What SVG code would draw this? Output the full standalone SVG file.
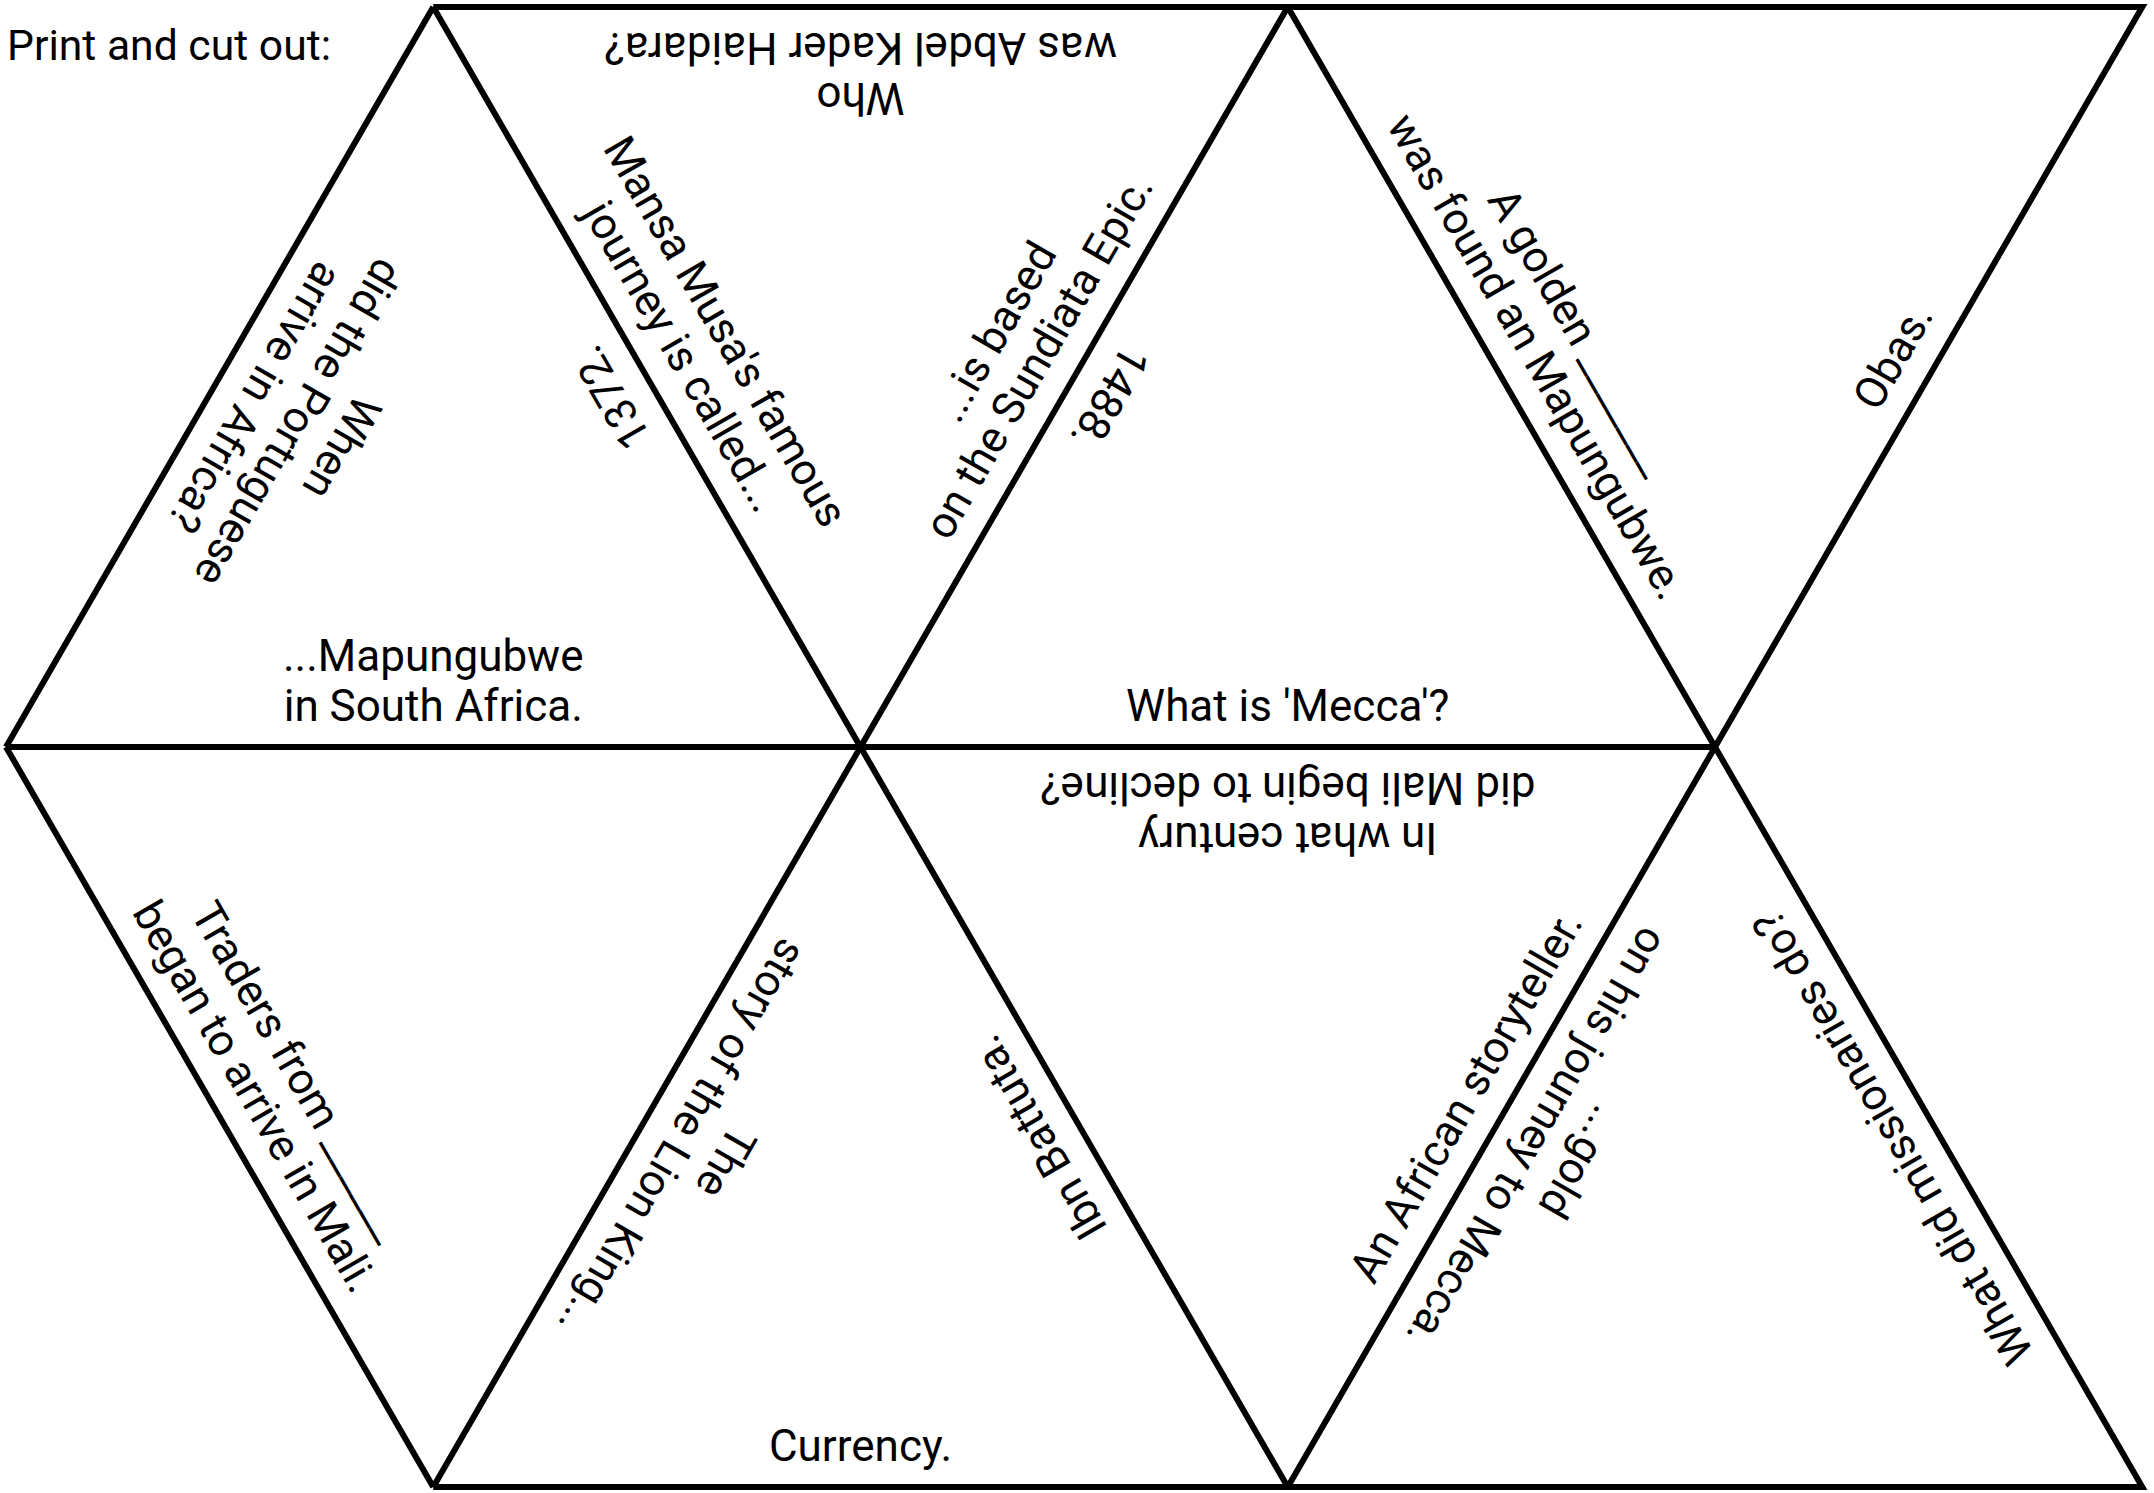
<svg xmlns="http://www.w3.org/2000/svg" width="2154" height="1493" viewBox="0 0 2154 1493">
<style>
  .cut { stroke: #000; stroke-width: 6; fill: none; stroke-linejoin: miter; }
  .t { font-family: Roboto, "Liberation Sans", sans-serif; font-size: 44px; fill: #000; text-anchor: middle; }
  .h { font-family: Roboto, "Liberation Sans", sans-serif; font-size: 42.7px; fill: #000; }
</style>
<rect width="2154" height="1493" fill="#fff"/>
<text class="h" x="7" y="60">Print and cut out:</text>

<g id="cut-lines">
  <polyline class="cut" points="433.25,7 2142.25,7 1287.75,1487"/>
  <line class="cut" x1="6" y1="747" x2="1715" y2="747"/>
  <polyline class="cut" points="433.25,1487 2142.25,1487 1287.75,7"/>
  <line class="cut" x1="6" y1="747" x2="433.25" y2="7"/>
  <line class="cut" x1="6" y1="747" x2="433.25" y2="1487"/>
  <line class="cut" x1="433.25" y1="7" x2="1287.75" y2="1487"/>
  <line class="cut" x1="1287.75" y1="7" x2="433.25" y2="1487"/>
</g>

<g id="tri-1">
  <g transform="translate(219.6,377) rotate(120)">
    <text class="t"><tspan x="0" y="-126">When</tspan><tspan x="0" y="-76">did the Portuguese</tspan><tspan x="0" y="-26">arrive in Africa?</tspan></text>
  </g>
  <g transform="translate(646.9,377) rotate(-120)">
    <text class="t" x="0" y="-26">1372.</text>
  </g>
  <g transform="translate(433.25,747)">
    <text class="t"><tspan x="0" y="-76">...Mapungubwe</tspan><tspan x="0" y="-26">in South Africa.</tspan></text>
  </g>
</g>

<g id="tri-2">
  <g transform="translate(860.5,7) rotate(180)">
    <text class="t"><tspan x="0" y="-76">Who</tspan><tspan x="0" y="-26">was Abdel Kader Haidara?</tspan></text>
  </g>
  <g transform="translate(646.9,377) rotate(60)">
    <text class="t"><tspan x="0" y="-76">Mansa Musa's famous</tspan><tspan x="0" y="-26">journey is called...</tspan></text>
  </g>
  <g transform="translate(1074.1,377) rotate(-60)">
    <text class="t"><tspan x="0" y="-76">...is based</tspan><tspan x="0" y="-26">on the Sundiata Epic.</tspan></text>
  </g>
</g>

<g id="tri-3">
  <g transform="translate(1074.1,377) rotate(120)">
    <text class="t" x="0" y="-26">1488.</text>
  </g>
  <g transform="translate(1287.75,747)">
    <text class="t" x="0" y="-26">What is 'Mecca'?</text>
  </g>
</g>

<g id="tri-4">
  <g transform="translate(1501.4,377) rotate(60)">
    <text class="t"><tspan x="0" y="-76">A golden _______</tspan><tspan x="0" y="-26">was found an Mapungubwe.</tspan></text>
  </g>
  <g transform="translate(1928.6,377) rotate(-60)">
    <text class="t" x="0" y="-26">Obas.</text>
  </g>
</g>

<g id="tri-5">
  <g transform="translate(219.6,1117) rotate(60)">
    <text class="t"><tspan x="0" y="-76">Traders from ______</tspan><tspan x="0" y="-26">began to arrive in Mali.</tspan></text>
  </g>
</g>

<g id="tri-6">
  <g transform="translate(646.9,1117) rotate(120)">
    <text class="t"><tspan x="0" y="-76">The</tspan><tspan x="0" y="-26">story of the Lion King...</tspan></text>
  </g>
  <g transform="translate(1074.1,1117) rotate(-120)">
    <text class="t" x="0" y="-26">Ibn Battuta.</text>
  </g>
  <g transform="translate(860.5,1487)">
    <text class="t" x="0" y="-26">Currency.</text>
  </g>
</g>

<g id="tri-7">
  <g transform="translate(1287.75,747) rotate(180)">
    <text class="t"><tspan x="0" y="-76">In what century</tspan><tspan x="0" y="-26">did Mali begin to decline?</tspan></text>
  </g>
  <g transform="translate(1501.4,1117) rotate(-60)">
    <text class="t" x="0" y="-26">An African storyteller.</text>
  </g>
</g>

<g id="tri-8">
  <g transform="translate(1501.4,1117) rotate(120)">
    <text class="t"><tspan x="0" y="-76">...gold</tspan><tspan x="0" y="-26">on his journey to Mecca.</tspan></text>
  </g>
  <g transform="translate(1928.6,1117) rotate(-120)">
    <text class="t" x="0" y="-26">What did missionaries do?</text>
  </g>
</g>
</svg>
